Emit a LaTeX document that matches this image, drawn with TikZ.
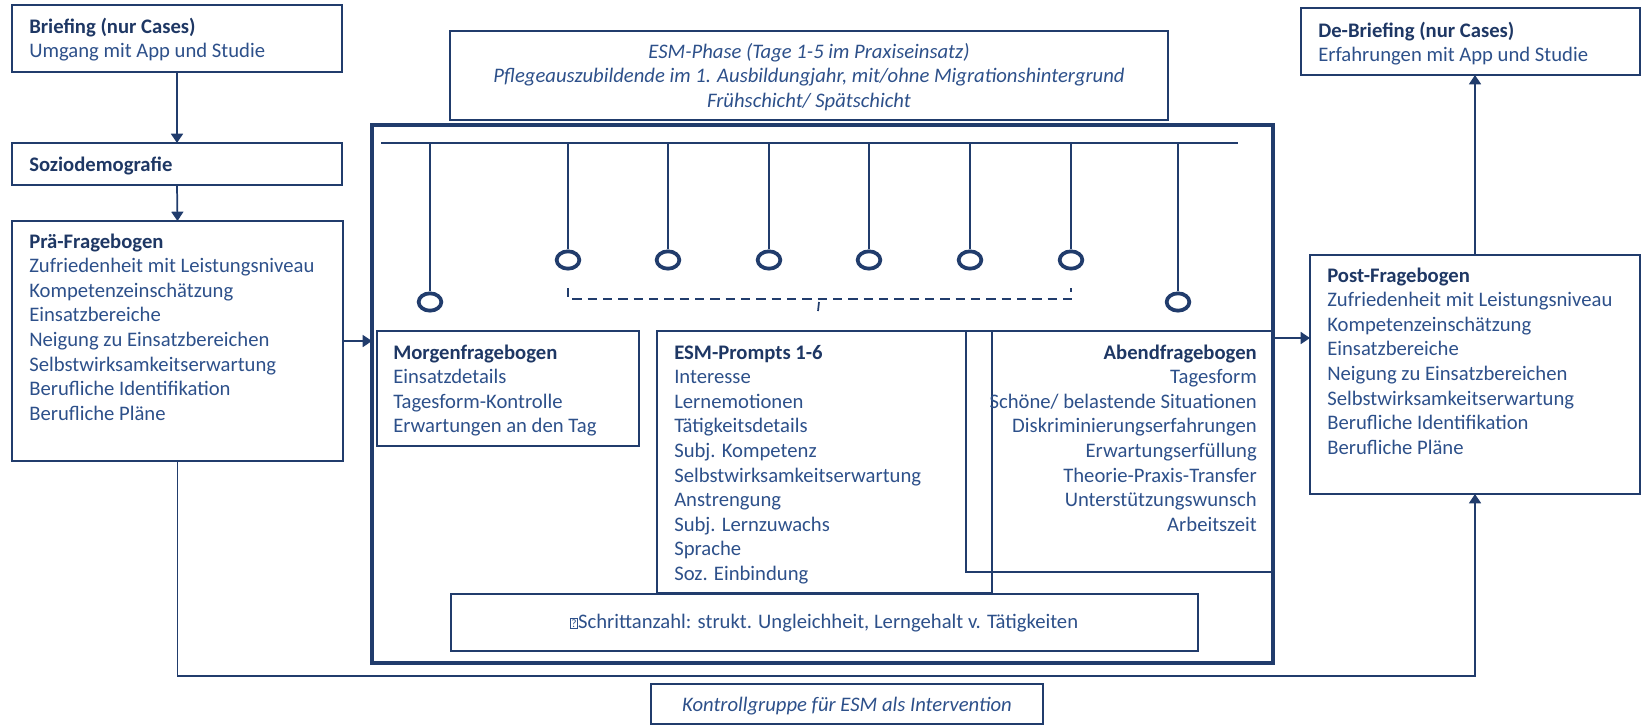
\documentclass[tikz,border=0pt]{standalone}
\usepackage{fontspec}
\setmainfont{Carlito}
\usetikzlibrary{arrows.meta,fit,shapes.geometric}
\definecolor{linecol}{RGB}{33,60,108}
\definecolor{headcol}{RGB}{30,55,100}
\definecolor{txtcol}{RGB}{45,80,138}
\newcommand\qmarkbox{{\fboxsep=0.6pt\fboxrule=0.5pt\raisebox{0.05ex}{\fbox{\fontsize{8.5}{8.5}\selectfont ?}}}}
\newcommand\hd[1]{{\bfseries\color{headcol}#1}}
% name, anchor, x, first baseline, list of lines
\newcommand\txtlines[5]{%
  \foreach \t [count=\i] in {#5}
    \node[txt, anchor=#2] (#1-\i) at (#3, {#4+(\i-1)*24.6}) {\t};}
\begin{document}
\begin{tikzpicture}[x=0.75pt,y=-0.75pt,
  box/.style={draw=linecol, line width=1.4pt, inner sep=0pt, outer sep=0pt, fill=none},
  mainbox/.style={draw=linecol, line width=3pt, inner sep=0pt, outer sep=0pt},
  conn/.style={draw=linecol, line width=1.3pt},
  arr/.style={conn, -{Triangle[length=7pt,width=9pt]}},
  stem/.style={draw=linecol, line width=1.1pt},
  dot/.style={ellipse, draw=linecol, line width=2.8pt, minimum width=17pt, minimum height=13pt, inner sep=0pt},
  txt/.style={font=\fontsize{15.5}{18.45}\selectfont, text=txtcol, inner sep=0pt},
  itxt/.style={txt, font=\fontsize{15.5}{18.45}\selectfont\itshape},
]
\useasboundingbox (0,0) rectangle (1642,726);

% ---------- boxes ----------
\node[box, fit={(12,5)(342,72)}] (brief) {};
\node[box, fit={(12,143)(342,185)}] (sozio) {};
\node[box, fit={(12,221)(343,461)}] (pre) {};
\node[box, fit={(450,31)(1168,120)}] (phase) {};
\node[mainbox, fit={(372,125)(1273,663)}] (main) {};
\node[box, fit={(377,331)(639,446)}] (morgen) {};
\node[box, fit={(657,331)(992,593)}] (prompts) {};
\node[box, fit={(966,331)(1273,572)}] (abend) {};
\node[box, fit={(451,594)(1198,651)}] (schritt) {};
\node[box, fit={(651,684)(1043,724)}] (kontroll) {};
\node[box, fit={(1310,255)(1640,494)}] (post) {};
\node[box, fit={(1301,8)(1640,75)}] (debrief) {};

% ---------- texts ----------
\txtlines{tbrief}{base west}{29}{33}{\hd{Briefing (nur Cases)}, Umgang mit App und Studie}
\txtlines{tsozio}{base west}{29}{171}{\hd{Soziodemografie}}
\txtlines{tpre}{base west}{29}{248}{\hd{Prä-Fragebogen}, Zufriedenheit mit Leistungsniveau, Kompetenzeinschätzung, Einsatzbereiche, Neigung zu Einsatzbereichen, Selbstwirksamkeitserwartung, Berufliche Identifikation, Berufliche Pläne}
\foreach \t [count=\i] in {ESM-Phase (Tage 1-5 im Praxiseinsatz), {Pflegeauszubildende im 1. Ausbildungjahr, mit/ohne Migrationshintergrund}, Frühschicht/ Spätschicht}
  \node[itxt, anchor=base] (tphase-\i) at (809, {58+(\i-1)*24.6}) {\t};
\txtlines{tmorgen}{base west}{393}{359}{\hd{Morgenfragebogen}, Einsatzdetails, Tagesform-Kontrolle, Erwartungen an den Tag}
\txtlines{tprompts}{base west}{674}{359}{\hd{ESM-Prompts 1-6}, Interesse, Lernemotionen, Tätigkeitsdetails, Subj. Kompetenz, Selbstwirksamkeitserwartung, Anstrengung, Subj. Lernzuwachs, Sprache, Soz. Einbindung}
\txtlines{tabend}{base east}{1257}{359}{\hd{Abendfragebogen}, Tagesform, Schöne/ belastende Situationen, Diskriminierungserfahrungen, Erwartungserfüllung, Theorie-Praxis-Transfer, Unterstützungswunsch, Arbeitszeit}
\node[txt, anchor=base] (tschritt) at (824,628) {\qmarkbox Schrittanzahl: strukt. Ungleichheit, Lerngehalt v. Tätigkeiten};
\node[itxt, anchor=base] (tkontroll) at (847,711) {Kontrollgruppe für ESM als Intervention};
\txtlines{tpost}{base west}{1327}{282}{\hd{Post-Fragebogen}, Zufriedenheit mit Leistungsniveau, Kompetenzeinschätzung, Einsatzbereiche, Neigung zu Einsatzbereichen, Selbstwirksamkeitserwartung, Berufliche Identifikation, Berufliche Pläne}
\txtlines{tdebrief}{base west}{1318}{37}{\hd{De-Briefing (nur Cases)}, Erfahrungen mit App und Studie}

% ---------- timeline ----------
\coordinate (tlA) at (381,143);
\coordinate (tlB) at (1238,143);
\draw[stem, line width=1.4pt] (tlA) -- (tlB);
\node[dot] (c1) at (430,302) {};
\node[dot] (c2) at (568,260) {};
\node[dot] (c3) at (668,260) {};
\node[dot] (c4) at (769,260) {};
\node[dot] (c5) at (869,260) {};
\node[dot] (c6) at (970,260) {};
\node[dot] (c7) at (1071,260) {};
\node[dot] (c8) at (1178,302) {};
\foreach \c in {c1,c2,c3,c4,c5,c6,c7,c8}
  \draw[stem] (\c.north |- tlA) -- (\c.north);
% dashed bracket
\coordinate (brL) at (568,288);
\coordinate (brR) at (1071,288);
\coordinate (brM) at (819,299);
\draw[draw=linecol, line width=1.3pt, dash pattern=on 7pt off 4.5pt]
  (brL) -- (brL |- brM) -- (brR |- brM) -- (brR);
\draw[draw=linecol, line width=1.3pt] (brM) ++(0,3) -- ++(-1,9);

% ---------- connectors ----------
\draw[arr] (brief.south) -- (sozio.north);
\draw[arr] (sozio.south) -- (pre.north);
\draw[arr] (pre.east) -- (pre.east -| main.west);
\coordinate (postin) at (1310,338);
\draw[arr] (postin -| main.east) -- (post.west |- postin);
\draw[arr] (post.north) -- (post.north |- debrief.south);
\coordinate (fb) at (177,676);
\draw[arr] (pre.south) -- (pre.south |- fb) -- (post.south |- fb) -- (post.south);
\end{tikzpicture}
\end{document}
